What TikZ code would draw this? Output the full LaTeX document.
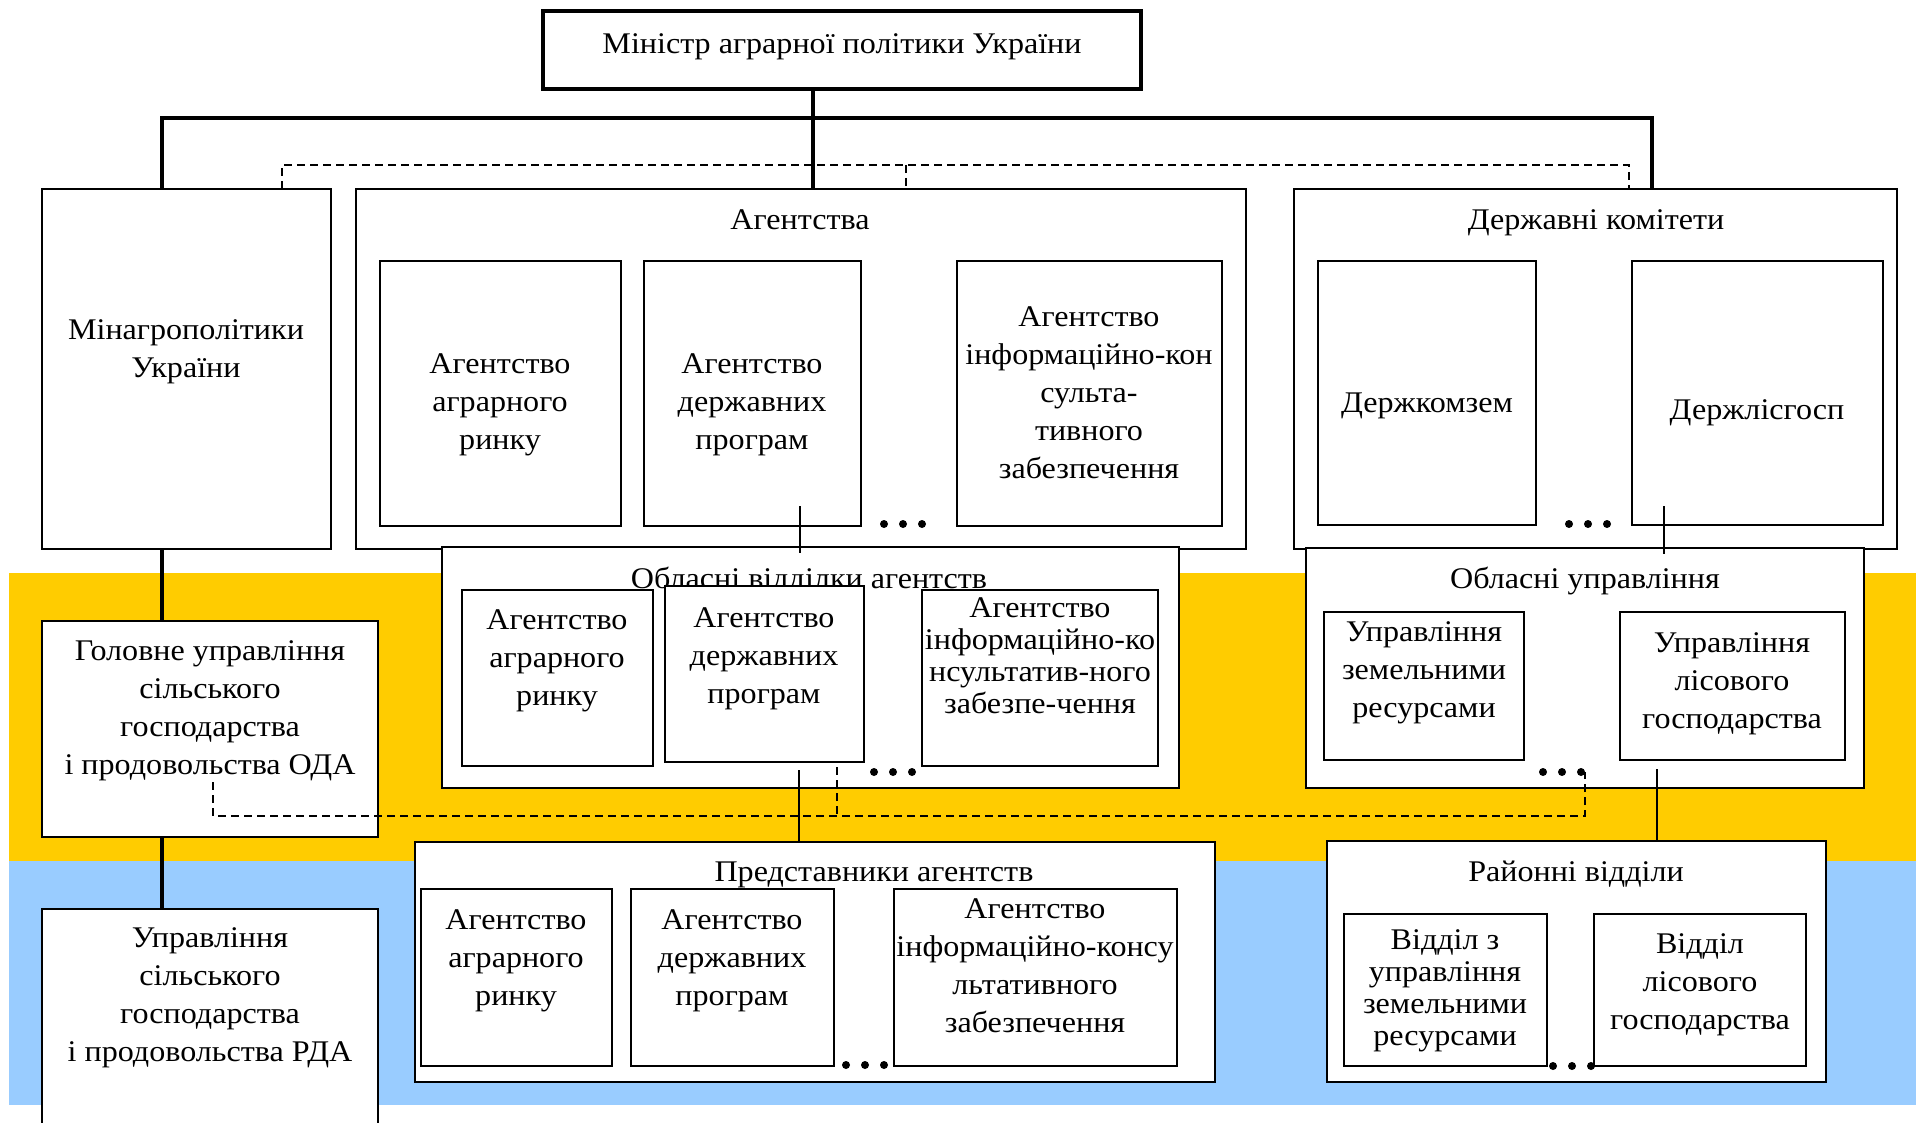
\documentclass[tikz,border=0pt]{standalone}
\usepackage{fontspec}
\setmainfont[FakeStretch=1.07]{Liberation Serif}
\definecolor{yel}{RGB}{255,204,0}
\definecolor{blu}{RGB}{153,204,255}
\tikzset{
 box/.style={draw, line width=2.2pt, fill=white, inner sep=0pt, outer sep=0pt},
 thk/.style={line width=4.5pt, line join=miter},
 thn/.style={line width=2pt},
 dsh/.style={line width=2pt, dash pattern=on 8pt off 5pt},
 txt/.style={align=center, inner sep=0pt, font=\fontsize{30}{38}\selectfont},
 txtc/.style={align=center, inner sep=0pt, font=\fontsize{30}{32}\selectfont},
 dotf/.style={fill=black, circle, inner sep=0pt, minimum size=8pt},
}
\newcommand\mkbox[6][]{\node[box,#1,minimum width={(#5-#3)*1pt}, minimum height={(#6-#4)*1pt}] (#2) at ({(#3+#5)/2},{(#4+#6)/2}) {};}
\newcommand\threedots[3]{\node[dotf] (#1a) at (#2,#3) {}; \node[dotf] (#1b) at ({#2+19},#3) {}; \node[dotf] (#1c) at ({#2+38},#3) {};}
\begin{document}
\begin{tikzpicture}[x=1pt,y=-1pt]
\useasboundingbox (0,0) rectangle (1916,1123);
\fill[white] (0,0) rectangle (1916,1123);
\fill[yel] (9,573) rectangle (1916,861);
\fill[blu] (9,861) rectangle (1916,1105);

% top level
\mkbox[line width=4pt]{mini}{543}{11}{1141}{89}
\node[txt, anchor=base] (tmini) at (842,54) {Міністр аграрної політики України};

\mkbox{mina}{42}{189}{331}{549}
\node[txt] (tmina) at (186,352) {Мінагрополітики\\України};

\mkbox{ag}{356}{189}{1246}{549}
\node[txt, anchor=base] (tag) at (800,230) {Агентства};
\mkbox{ag1}{380}{261}{621}{526}
\node[txt] (tag1) at (500,405) {Агентство\\аграрного\\ринку};
\mkbox{ag2}{644}{261}{861}{526}
\node[txt] (tag2) at (752,405) {Агентство\\державних\\програм};
\mkbox{ag3}{957}{261}{1222}{526}
\node[txt] (tag3) at (1089,393) {Агентство\\інформаційно-кон\\сульта-\\тивного\\забезпечення};
\threedots{dA}{884}{524}

\mkbox{dk}{1294}{189}{1897}{549}
\node[txt, anchor=base] (tdk) at (1596,230) {Державні комітети};
\mkbox{dk1}{1318}{261}{1536}{525}
\node[txt] (tdk1) at (1427,406) {Держкомзем};
\mkbox{dk2}{1632}{261}{1883}{525}
\node[txt] (tdk2) at (1757,413) {Держлісгосп};
\threedots{dB}{1569}{524}

% regional level
\mkbox{gol}{42}{621}{378}{837}
\node[txt] (tgol) at (210,711) {Головне управління\\сільського\\господарства\\і продовольства ОДА};

\mkbox{ob}{442}{547}{1179}{788}
\node[txt, anchor=base] (tob) at (809,588) {Обласні відділки агентств};
\mkbox{ob1}{462}{590}{653}{766}
\node[txt] (tob1) at (557,661) {Агентство\\аграрного\\ринку};
\mkbox{ob2}{665}{586}{864}{762}
\node[txt] (tob2) at (764,659) {Агентство\\державних\\програм};
\mkbox{ob3}{922}{590}{1158}{766}
\node[txtc] (tob3) at (1040,656) {Агентство\\інформаційно-ко\\нсультатив-ного\\забезпе-чення};
\threedots{dC}{874}{772}

\mkbox{ou}{1306}{548}{1864}{788}
\node[txt, anchor=base] (tou) at (1585,588) {Обласні управління};
\mkbox{ou1}{1324}{612}{1524}{760}
\node[txt] (tou1) at (1424,673) {Управління\\земельними\\ресурсами};
\mkbox{ou2}{1620}{612}{1845}{760}
\node[txt] (tou2) at (1732,684) {Управління\\лісового\\господарства};
\threedots{dD}{1543}{772}

% district level
\mkbox{rda}{42}{909}{378}{1160}
\node[txt] (trda) at (210,998) {Управління\\сільського\\господарства\\і продовольства РДА};

\mkbox{pr}{415}{842}{1215}{1082}
\node[txt, anchor=base] (tpr) at (874,881) {Представники агентств};
\mkbox{pr1}{421}{889}{612}{1066}
\node[txt] (tpr1) at (516,961) {Агентство\\аграрного\\ринку};
\mkbox{pr2}{631}{889}{834}{1066}
\node[txt] (tpr2) at (732,961) {Агентство\\державних\\програм};
\mkbox{pr3}{894}{889}{1177}{1066}
\node[txt] (tpr3) at (1035,966) {Агентство\\інформаційно-консу\\льтативного\\забезпечення};
\threedots{dE}{846}{1065}

\mkbox{ra}{1327}{841}{1826}{1082}
\node[txt, anchor=base] (tra) at (1576,881) {Районні відділи};
\mkbox{ra1}{1344}{914}{1547}{1066}
\node[txtc] (tra1) at (1445,991) {Відділ з\\управління\\земельними\\ресурсами};
\mkbox{ra2}{1594}{914}{1806}{1066}
\node[txt] (tra2) at (1700,985) {Відділ\\лісового\\господарства};
\threedots{dF}{1553}{1066}

% connectors
\coordinate (jm) at (813,118);
\coordinate (hl) at (162,118);
\coordinate (hr) at (1652,118);
\draw[thk] (jm |- mini.south) -- (jm |- ag.north);
\draw[thk] (hl |- mina.north) -- (hl) -- (hr) -- (hr |- dk.north);
\draw[thk] (hl |- mina.south) -- (hl |- gol.north);
\draw[thk] (hl |- gol.south) -- (hl |- rda.north);

\coordinate (dl) at (282,165);
\coordinate (dm) at (906,165);
\coordinate (dr) at (1629,165);
\draw[dsh] (dl |- mina.north) -- (dl) -- (dr) -- (dr |- dk.north);
\draw[dsh] (dm) -- (dm |- ag.north);

\coordinate (c1) at (800,506);
\coordinate (c1e) at (800,553);
\draw[thn] (c1) -- (c1e |- ob.north) -- (c1e);
\coordinate (c2) at (1664,506);
\coordinate (c2e) at (1664,554);
\draw[thn] (c2) -- (c2e |- ou.north) -- (c2e);
\coordinate (c3) at (799,770);
\draw[thn] (c3) -- (c3 |- pr.north);
\coordinate (c4) at (1657,769);
\draw[thn] (c4) -- (c4 |- ra.north);

\coordinate (e1) at (213,782);
\coordinate (e2) at (1585,816);
\coordinate (e3) at (1585,772);
\coordinate (e4) at (837,767);
\draw[dsh] (e1) -- (e1 |- e2) -- (e2) -- (e3);
\draw[dsh] (e4) -- (e4 |- e2);
\end{tikzpicture}
\end{document}
